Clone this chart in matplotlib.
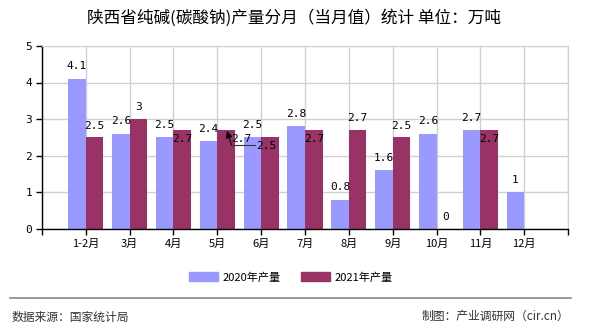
import numpy as np
import matplotlib
matplotlib.use('Agg')
import matplotlib.pyplot as plt
from matplotlib.patches import Patch

plt.rcParams['font.family'] = ['Noto Sans CJK SC', 'DejaVu Sans']

# Data
months = ['1-2月', '3月', '4月', '5月', '6月', '7月', '8月', '9月', '10月', '11月', '12月']
prod_2020 = [4.1, 2.6, 2.5, 2.4, 2.5, 2.8, 0.8, 1.6, 2.6, 2.7, 1]
prod_2021 = [2.5, 3, 2.7, 2.7, 2.5, 2.7, 2.7, 2.5, 0, 2.7, None]
# label placement for 2021 values: 1 = above bar, -1 = inside below top
lab_2021_side = [1, 1, -1, -1, -1, -1, 1, 1, 1, -1, 1]
lab_2021_dx = [0, 0, 0, 11, -3, 0, 0, 0, 0, 0, 0]  # points

c_2020 = '#9999FF'
c_2021 = '#993366'

fig = plt.figure(figsize=(5.9, 3.3), dpi=100)
ax = fig.add_axes([0.071, 0.306, 0.892, 0.555])

x = np.arange(1, len(months) + 1)
w = 0.4
v21 = [np.nan if v is None else v for v in prod_2021]
ax.bar(x - w / 2, prod_2020, width=w, color=c_2020, zorder=2)
ax.bar(x + w / 2, v21, width=w, color=c_2021, zorder=2)

mono = 'DejaVu Sans Mono'
for xi, v in zip(x, prod_2020):
    ax.annotate(f'{v:g}', (xi - w / 2, v), xytext=(0, 9), textcoords='offset points',
                ha='center', va='center', fontsize=8, family=mono, zorder=4)
for xi, v, s, dx in zip(x, prod_2021, lab_2021_side, lab_2021_dx):
    if v is None:
        continue
    dy = 8.5 if s > 0 else -6.5
    ax.annotate(f'{v:g}', (xi + w / 2, v), xytext=(dx, dy), textcoords='offset points',
                ha='center', va='center', fontsize=8, family=mono, zorder=4)

# leader arrow near 5月 label
i5 = 3
ax.annotate('', xy=(x[i5] + 0.22, prod_2021[i5] - 0.02), xytext=(x[i5] + 0.32, prod_2021[i5] - 0.4),
            arrowprops=dict(arrowstyle='-|>', color='black', lw=0.8, mutation_scale=10,
                            shrinkA=0, shrinkB=0), zorder=5)
ax.plot([x[i5] + 0.32, x[i5] + 0.85], [prod_2021[i5] - 0.4, prod_2021[i5] - 0.4],
        color='#333333', lw=0.8, zorder=5)

ax.set_xlim(0, len(months) + 1)
ax.set_ylim(0, 5)
ax.set_xticks(np.arange(0, len(months) + 2))
ax.set_xticklabels([''] + months + [''], fontsize=8)
ax.set_yticks(range(6))
ax.set_yticklabels([str(i) for i in range(6)], fontsize=8, family=mono)
ax.tick_params(axis='both', direction='out', length=4, width=1, color='black', pad=3)
ax.grid(True, color='#D0D0D0', lw=1, zorder=0)
ax.set_axisbelow(True)
for s in ['top', 'right']:
    ax.spines[s].set_color('#D0D0D0')
for s in ['left', 'bottom']:
    ax.spines[s].set_color('black')
    ax.spines[s].set_linewidth(1)

fig.text(0.498, 0.945, '陕西省纯碱(碳酸钠)产量分月（当月值）统计 单位：万吨', ha='center', va='center',
         fontsize=12)

handles = [Patch(color=c_2020, label='2020年产量'), Patch(color=c_2021, label='2021年产量')]
fig.legend(handles=handles, loc='center', bbox_to_anchor=(0.493, 0.16), ncol=2, frameon=False,
           fontsize=8, handlelength=2.6, handleheight=0.9, columnspacing=1.8, handletextpad=0.4)

fig.add_artist(plt.Line2D([0.017, 0.968], [0.097, 0.097], color='#888888', lw=1.2))
fig.text(0.019, 0.04, '数据来源：国家统计局', ha='left', va='center', fontsize=8.5, color='#333333')
fig.text(0.965, 0.04, '制图：产业调研网（cir.cn）', ha='right', va='center', fontsize=8.5, color='#333333')

fig.savefig('out.png', dpi=100)
